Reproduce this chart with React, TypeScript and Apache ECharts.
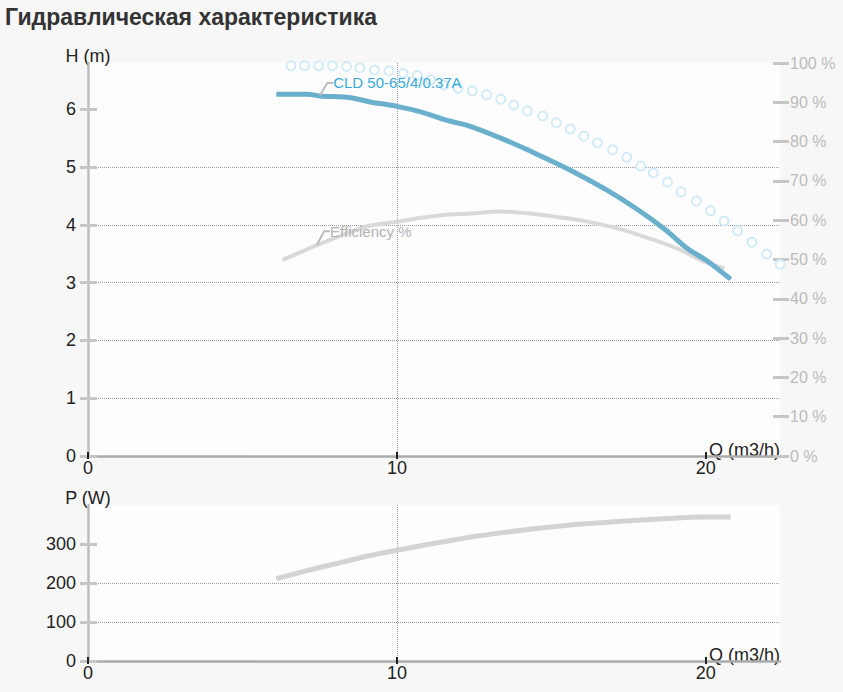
import { useEffect, useRef } from "react";
import * as echarts from "echarts";

const TITLE = "Гидравлическая характеристика";
const PUMP_NAME = "CLD 50-65/4/0.37A";
const EFF_NAME = "Efficiency %";

// tick labels
const qTicks = [0, 10, 20];
const hTicks = [0, 1, 2, 3, 4, 5, 6];
const pTicks = [0, 100, 200, 300];
const pctTicks = [0, 10, 20, 30, 40, 50, 60, 70, 80, 90, 100];

// head curve H(Q), m
const headQ = [6.1, 7.1, 7.5, 8.5, 9.1, 10, 10.8, 11.6, 12.4, 13.5, 14.3, 15.6, 16.8, 17.8, 18.7, 19.4, 20, 20.8];
const headH = [6.26, 6.26, 6.23, 6.2, 6.13, 6.05, 5.95, 5.81, 5.7, 5.47, 5.28, 4.95, 4.6, 4.26, 3.91, 3.59, 3.39, 3.06];
const headLabelQ = 7.5;

// efficiency, %
const effQ = [6.3, 7.3, 7.4, 8.1, 9.1, 10, 10.8, 11.5, 12.4, 13.3, 14.3, 15.3, 16, 17.2, 18.3, 19.2, 19.9, 20.6];
const effPct = [49.9, 53.3, 53.6, 55.8, 58.6, 59.6, 60.6, 61.3, 61.7, 62.2, 61.7, 60.7, 59.9, 57.8, 55, 52.4, 49.6, 47.8];
const effLabelQ = 7.4;

// hollow-circle reference curve, %
const refQ = [6.57, 7.01, 7.47, 7.91, 8.37, 8.8, 9.27, 9.74, 10.2, 10.66, 11.09, 11.52, 11.98, 12.44, 12.9, 13.36, 13.78, 14.22, 14.72, 15.16, 15.61, 16.05, 16.49, 16.98, 17.44, 17.89, 18.3, 18.76, 19.2, 19.69, 20.15, 20.59, 21.03, 21.49, 21.97, 22.4];
const refPct = [99.3, 99.3, 99.3, 99.3, 99.1, 98.8, 98.2, 98, 97.4, 96.8, 95.7, 94.4, 93.6, 92.9, 91.9, 90.8, 89.3, 87.8, 86.5, 84.8, 83.2, 81.4, 79.7, 77.9, 76, 73.8, 72, 69.7, 67.2, 64.9, 62.4, 59.8, 57.3, 54.4, 51.4, 48.8];

// power P(Q), W
const powerQ = [6.1, 7, 8.1, 9.1, 10, 11.3, 12.4, 13.5, 14.5, 15.6, 16.7, 17.8, 18.9, 19.9, 20.8];
const powerW = [211, 230, 251, 270, 284, 303, 318, 330, 340, 349, 355, 361, 366, 369, 369];

const FONT = "'Liberation Sans', Arial, sans-serif";
const TICK_GRAY = "#c6c6c6";
const DOTTED = { type: "dotted" as const, color: "#9c9c9c", width: 1 };

function qAxis(gridIndex: number): any[] {
  const base = { type: "value", gridIndex, position: "bottom", min: 0, max: 22.4, interval: 10 };
  return [
    {
      ...base,
      name: "Q (m3/h)",
      nameLocation: "end",
      nameGap: 0,
      nameMoveOverlap: false,
      nameTextStyle: {
        color: "#222",
        fontSize: 18,
        fontFamily: FONT,
        align: "right",
        verticalAlign: "bottom",
        lineHeight: 12,
      },
      axisLine: { show: true, onZero: false, lineStyle: { color: "#ababab", width: 2.5 } },
      axisTick: { show: true, length: 3, customValues: qTicks, lineStyle: { color: "#222", width: 2 } },
      axisLabel: { customValues: qTicks, color: "#222", fontSize: 18, fontFamily: FONT, margin: 3 },
      splitLine: { show: true, showMinLine: false, showMaxLine: false, lineStyle: DOTTED },
    },
    {
      ...base,
      axisLine: { show: false, onZero: false },
      axisTick: { show: true, inside: true, length: 4, customValues: qTicks, lineStyle: { color: "#222", width: 2 } },
      axisLabel: { show: false },
      splitLine: { show: false },
    },
  ];
}

function valAxis(gridIndex: number, max: number, interval: number, ticks: number[], name: string): any[] {
  const base = { type: "value", gridIndex, position: "left", min: 0, max, interval };
  return [
    {
      ...base,
      name,
      nameLocation: "end",
      nameGap: 0,
      nameMoveOverlap: false,
      nameTextStyle: { color: "#222", fontSize: 18, fontFamily: FONT, align: "center", lineHeight: 14 },
      axisLine: { show: true, onZero: false, lineStyle: { color: "#bdbdbd", width: 2.5 } },
      axisTick: { show: true, length: 8, customValues: ticks, lineStyle: { color: TICK_GRAY, width: 3 } },
      axisLabel: {
        customValues: ticks,
        color: "#222",
        fontSize: 18,
        fontFamily: FONT,
        margin: 12,
        padding: [0, 0, 5, 0],
      },
      splitLine: { show: true, showMinLine: false, showMaxLine: false, lineStyle: DOTTED },
    },
    {
      ...base,
      axisLine: { show: false, onZero: false },
      axisTick: { show: true, inside: true, length: 9, customValues: ticks, lineStyle: { color: TICK_GRAY, width: 3 } },
      axisLabel: { show: false },
      splitLine: { show: false },
    },
  ];
}

function pctAxis(): any[] {
  const base = { type: "value", gridIndex: 0, position: "right", min: 0, max: 100, interval: 10 };
  return [
    {
      ...base,
      axisLine: { show: false, onZero: false },
      axisTick: { show: true, length: 9, customValues: pctTicks, lineStyle: { color: TICK_GRAY, width: 3 } },
      axisLabel: {
        customValues: pctTicks,
        formatter: "{value} %",
        color: "#bbbbbb",
        fontSize: 16,
        fontFamily: FONT,
        margin: 10,
        padding: [0, 0, 6, 0],
      },
      splitLine: { show: false },
    },
    {
      ...base,
      axisLine: { show: false, onZero: false },
      axisTick: { show: true, inside: true, length: 7, customValues: pctTicks, lineStyle: { color: TICK_GRAY, width: 3 } },
      axisLabel: { show: false },
      splitLine: { show: false },
    },
  ];
}

function labelled(qs: number[], vs: number[], at: number, text: string, color: string) {
  return qs.map((q, i) =>
    q === at
      ? {
          value: [q, vs[i]],
          label: {
            show: true,
            position: "right",
            distance: 0,
            formatter: text,
            color,
            fontSize: 15,
            fontFamily: FONT,
          },
          labelLine: { show: true, length2: 6, lineStyle: { color: "#bdbdbd", width: 2 } },
        }
      : [q, vs[i]],
  );
}

export default function App() {
  const chartRef = useRef<HTMLDivElement>(null);

  useEffect(() => {
    if (!chartRef.current) return;
    const chart = echarts.init(chartRef.current, undefined, { renderer: "svg" });

    const headColor = "#6ab0cc";
    const gridBase = { left: 88, width: 692, show: true, backgroundColor: "#fdfdfd", borderWidth: 0, outerBoundsMode: "none" };

    chart.setOption({
      animation: false,
      backgroundColor: "#f7f7f7",
      textStyle: { fontFamily: FONT },
      title: {
        text: TITLE,
        left: 0,
        top: 0,
        textStyle: { fontSize: 23, fontWeight: "bold", color: "#333", fontFamily: FONT },
      },
      grid: [
        { ...gridBase, top: 63, height: 393 },
        { ...gridBase, top: 505, height: 156 },
      ],
      xAxis: [...qAxis(0), ...qAxis(1)],
      yAxis: [
        ...valAxis(0, 6.8, 1, hTicks, "H (m)"),
        ...pctAxis(),
        ...valAxis(1, 400, 100, pTicks, "P (W)"),
      ],
      series: [
        {
          type: "line",
          xAxisIndex: 0,
          yAxisIndex: 2,
          data: refQ.map((q, i) => [q, refPct[i]]),
          showSymbol: true,
          symbol: "emptyCircle",
          symbolSize: 9,
          clip: false,
          lineStyle: { width: 0, opacity: 0 },
          itemStyle: { color: "#d3ebf6", borderColor: "#d3ebf6", borderWidth: 2 },
          z: 1,
        },
        {
          type: "line",
          xAxisIndex: 0,
          yAxisIndex: 2,
          data: labelled(effQ, effPct, effLabelQ, EFF_NAME, "#b3b3b3"),
          smooth: 0.3,
          showSymbol: true,
          symbol: "circle",
          symbolSize: 1,
          itemStyle: { color: "#d9d9d9" },
          lineStyle: { color: "#d9d9d9", width: 4 },
          labelLayout: { dx: 13, dy: -14 },
          z: 2,
        },
        {
          type: "line",
          xAxisIndex: 0,
          yAxisIndex: 0,
          data: labelled(headQ, headH, headLabelQ, PUMP_NAME, "#3aa8d8"),
          smooth: 0.3,
          showSymbol: true,
          symbol: "circle",
          symbolSize: 1,
          itemStyle: { color: headColor },
          lineStyle: { color: headColor, width: 5 },
          labelLayout: { dx: 13, dy: -13 },
          z: 3,
        },
        {
          type: "line",
          xAxisIndex: 2,
          yAxisIndex: 4,
          data: powerQ.map((q, i) => [q, powerW[i]]),
          smooth: 0.3,
          showSymbol: false,
          lineStyle: { color: "#d3d3d3", width: 5 },
        },
      ],
    });

    return () => chart.dispose();
  }, []);

  return (
    <div
      ref={chartRef}
      style={{ position: "fixed", left: 0, top: 0, width: 843, height: 692 }}
    />
  );
}
